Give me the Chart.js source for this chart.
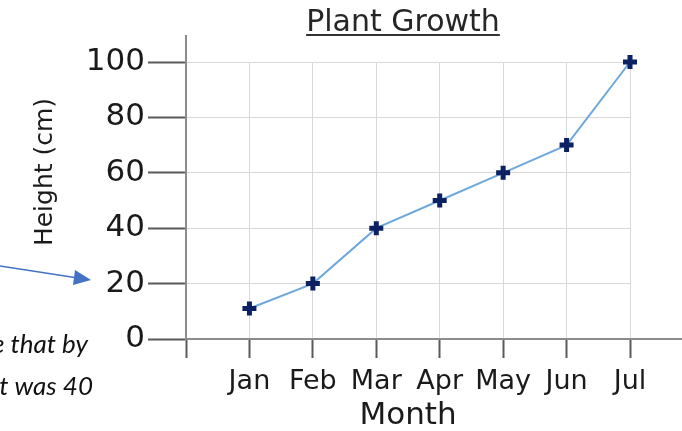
<!DOCTYPE html>
<html>
<head>
<meta charset="utf-8">
<script src="https://cdn.jsdelivr.net/npm/chart.js@4"></script>
<style>
  body { margin: 0; background: #fff; }
  canvas { display: block; }
</style>
</head>
<body>
<canvas id="chart" width="682" height="431"></canvas>
<script>
const MONTHS = ['', 'Jan', 'Feb', 'Mar', 'Apr', 'May', 'Jun', 'Jul'];
const HEIGHTS = [null, 11, 20, 40, 50, 60, 70, 100];
const Y_TICKS = [0, 20, 40, 60, 80, 100];
const CHART_TITLE = 'Plant Growth';
const Y_TITLE = 'Height (cm)';
const X_TITLE = 'Month';
const NOTE_LINES = ['e that by', 't was 40'];

const FONT = '"DejaVu Sans", sans-serif';
const AXIS_DARK = '#5a5a5a';
const GRID_LIGHT = '#d9d9d9';

// extra bits drawn on top: title, rotated y title, axis extensions, note + arrow
const decorations = {
    id: 'decorations',
    afterDraw(chart) {
        const ctx = chart.ctx;
        const area = chart.chartArea;
        ctx.save();

        // axis line extensions
        ctx.strokeStyle = '#8c8c8c';
        ctx.lineWidth = 2;
        ctx.beginPath();
        ctx.moveTo(area.left, area.top);
        ctx.lineTo(area.left, 35);
        ctx.stroke();
        ctx.beginPath();
        ctx.moveTo(area.right, area.bottom);
        ctx.lineTo(chart.width, area.bottom);
        ctx.stroke();

        // chart title, underlined
        ctx.fillStyle = '#262626';
        ctx.font = '30px ' + FONT;
        ctx.textAlign = 'center';
        ctx.textBaseline = 'alphabetic';
        ctx.fillText(CHART_TITLE, 403, 31);
        const w = ctx.measureText(CHART_TITLE).width;
        ctx.strokeStyle = '#333';
        ctx.lineWidth = 2;
        ctx.beginPath();
        ctx.moveTo(403 - w / 2, 35);
        ctx.lineTo(403 + w / 2, 35);
        ctx.stroke();

        // y axis title
        ctx.save();
        ctx.translate(45, 172);
        ctx.rotate(-Math.PI / 2);
        ctx.font = '25px ' + FONT;
        ctx.textBaseline = 'middle';
        ctx.fillStyle = '#1a1a1a';
        ctx.fillText(Y_TITLE, 0, 0);
        ctx.restore();

        // cut-off note on the left
        ctx.font = 'italic 26px Lato, sans-serif';
        ctx.fillStyle = '#111';
        ctx.textAlign = 'right';
        ctx.fillText(NOTE_LINES[0], 88, 353);
        ctx.fillText(NOTE_LINES[1], 93, 395);

        // arrow
        ctx.strokeStyle = '#4472c4';
        ctx.fillStyle = '#4472c4';
        ctx.lineWidth = 1.5;
        ctx.beginPath();
        ctx.moveTo(0, 266);
        ctx.lineTo(78, 278);
        ctx.stroke();
        ctx.beginPath();
        ctx.moveTo(91, 280);
        ctx.lineTo(75, 270);
        ctx.lineTo(73, 285);
        ctx.closePath();
        ctx.fill();

        ctx.restore();
    }
};

new Chart(document.getElementById('chart'), {
    type: 'line',
    data: {
        labels: MONTHS,
        datasets: [{
            data: HEIGHTS,
            borderColor: '#6fa8dc',
            borderWidth: 2,
            pointStyle: 'cross',
            pointRadius: 7,
            pointBorderWidth: 5,
            pointBorderColor: '#0b2161',
            pointBackgroundColor: '#0b2161',
            clip: false
        }]
    },
    options: {
        responsive: false,
        animation: false,
        layout: { padding: { top: 62, right: 52, left: 0, bottom: 0 } },
        plugins: {
            legend: { display: false },
            tooltip: { enabled: false }
        },
        scales: {
            x: {
                offset: false,
                grid: {
                    color: (c) => c.index === 0 ? 'rgba(0,0,0,0)' : GRID_LIGHT,
                    tickColor: AXIS_DARK,
                    tickLength: 19,
                    tickWidth: 2
                },
                border: { color: '#8c8c8c', width: 2 },
                ticks: {
                    autoSkip: false,
                    maxRotation: 0,
                    padding: 8,
                    color: '#1a1a1a',
                    font: { family: FONT, size: 27 }
                },
                title: {
                    display: true,
                    text: X_TITLE,
                    color: '#1a1a1a',
                    padding: { top: 0, bottom: -4 },
                    font: { family: FONT, size: 31 }
                },
                afterFit(scale) { scale.height = 431 - 339; }
            },
            y: {
                min: Y_TICKS[0],
                max: Y_TICKS[Y_TICKS.length - 1],
                afterBuildTicks(scale) { scale.ticks = Y_TICKS.map(v => ({ value: v })); },
                grid: {
                    color: GRID_LIGHT,
                    tickColor: AXIS_DARK,
                    tickLength: 38,
                    tickWidth: 2
                },
                border: { color: '#8c8c8c', width: 2 },
                ticks: {
                    padding: 3,
                    color: '#1a1a1a',
                    font: { family: FONT, size: 31 }
                },
                afterFit(scale) { scale.width = 186; }
            }
        }
    },
    plugins: [decorations]
});
</script>
</body>
</html>
